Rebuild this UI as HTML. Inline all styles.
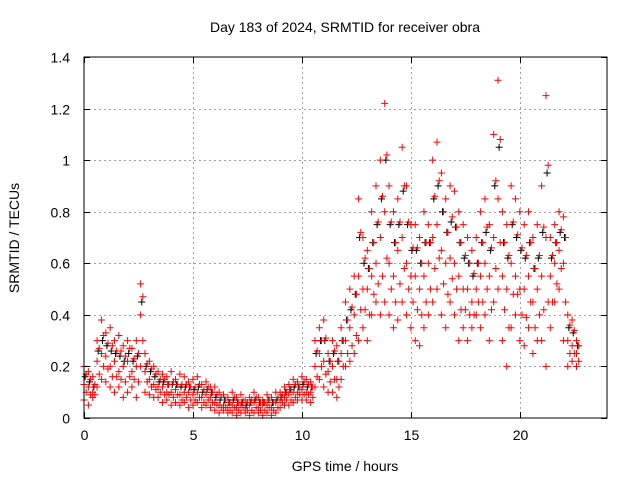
<!DOCTYPE html>
<html><head><meta charset="utf-8"><style>
body{margin:0;background:#fff}
svg{display:block;font-family:"Liberation Sans",sans-serif}
</style></head><body>
<svg id="chart" width="640" height="480" viewBox="0 0 640 480">
<rect width="640" height="480" fill="#fff"/>
<text x="345" y="32" text-anchor="middle" font-size="14">Day 183 of 2024, SRMTID for receiver obra</text>
<text x="345" y="471" text-anchor="middle" font-size="14">GPS time / hours</text>
<text transform="translate(19,238) rotate(-90)" text-anchor="middle" font-size="14">SRMTID / TECUs</text>
<g id="grid"></g>
<g id="blackpts"></g>
<g id="redpts"></g>
<rect x="84" y="57" width="523" height="361" fill="none" stroke="#000" stroke-width="1"/>
<g id="ticks"></g>
</svg>
<script>
const xTicks=[0,5,10,15,20];
const yTicks=[0,0.2,0.4,0.6,0.8,1,1.2,1.4];
const yTickLabels=["0","0.2","0.4","0.6","0.8","1","1.2","1.4"];
const tStart=0, tStep=0.2;
const redHi=[.2,.18,.16,.3,.38,.33,.35,.3,.32,.28,.3,.27,.3,.52,.25,.22,.2,.18,.17,.16,.18,.15,.17,.16,.14,.15,.16,.13,.14,.12,.12,.1,.09,.08,.1,.08,.09,.07,.08,.1,.08,.07,.09,.08,.1,.1,.12,.13,.15,.14,.16,.15,.14,.3,.35,.38,.25,.3,.28,.35,.45,.5,.55,.85,.7,.65,.8,.9,1.0,1.22,.9,.8,.85,1.05,.9,.75,.75,.7,.8,.75,1.0,1.07,.95,.85,.9,.88,.8,.75,.7,.65,.7,.8,.85,.75,1.1,1.31,.8,.75,.9,.85,.8,.75,.8,.7,.75,.9,1.25,.7,.75,.8,.78,.4,.38,.3];
const redMid=[.13,.12,.1,.22,.25,.24,.2,.22,.18,.2,.22,.18,.2,.4,.18,.15,.13,.12,.12,.1,.1,.11,.09,.1,.1,.09,.1,.08,.09,.08,.06,.05,.05,.04,.05,.04,.05,.04,.05,.06,.04,.05,.05,.04,.06,.07,.08,.09,.1,.1,.11,.1,.1,.2,.25,.22,.18,.2,.15,.25,.3,.35,.4,.55,.5,.5,.55,.6,.7,.8,.6,.55,.65,.7,.6,.55,.55,.5,.55,.6,.7,.75,.65,.6,.62,.6,.55,.5,.5,.45,.5,.55,.6,.55,.7,.85,.55,.5,.6,.55,.5,.5,.55,.45,.5,.55,.7,.55,.6,.65,.6,.3,.28,.25];
const redLo=[.07,.05,.08,.12,.15,.14,.12,.1,.12,.08,.1,.12,.08,.2,.1,.09,.08,.08,.06,.07,.05,.06,.05,.06,.04,.05,.06,.04,.05,.04,.03,.02,.03,.02,.02,.01,.02,.02,.01,.02,.02,.01,.02,.01,.02,.04,.05,.05,.06,.07,.07,.07,.06,.12,.15,.12,.1,.1,.08,.15,.2,.22,.25,.3,.35,.3,.4,.45,.4,.45,.4,.35,.38,.45,.4,.35,.3,.28,.35,.4,.45,.5,.4,.35,.45,.4,.3,.35,.3,.35,.4,.35,.4,.3,.45,.5,.3,.2,.35,.4,.3,.28,.35,.25,.3,.3,.2,.35,.45,.5,.3,.2,.22,.2];
const redA=[.17,.15,.13,.27,.32,.29,.28,.26,.26,.24,.27,.23,.25,.47,.21,.19,.17,.15,.15,.13,.14,.13,.13,.13,.12,.12,.13,.11,.12,.1,.09,.08,.07,.06,.08,.06,.07,.06,.07,.08,.06,.06,.07,.06,.08,.09,.1,.11,.13,.12,.14,.13,.12,.26,.3,.31,.22,.26,.22,.3,.38,.43,.48,.72,.62,.58,.68,.76,.86,1.02,.76,.68,.76,.9,.76,.66,.66,.6,.68,.68,.86,.92,.8,.72,.78,.74,.68,.63,.6,.56,.6,.68,.74,.66,.92,1.08,.68,.63,.76,.71,.66,.63,.68,.58,.63,.74,.98,.63,.68,.73,.7,.36,.34,.28];
const redB=[.1,.09,.09,.17,.2,.19,.16,.16,.15,.14,.16,.15,.14,.3,.14,.12,.11,.1,.09,.09,.08,.09,.07,.08,.07,.07,.08,.06,.07,.06,.05,.04,.04,.03,.04,.03,.04,.03,.03,.04,.03,.03,.04,.03,.04,.06,.07,.07,.08,.09,.09,.09,.08,.16,.2,.17,.14,.15,.12,.2,.25,.28,.32,.42,.42,.4,.48,.52,.55,.62,.5,.45,.52,.58,.5,.45,.42,.4,.45,.5,.58,.62,.52,.48,.54,.5,.42,.42,.4,.4,.45,.45,.5,.42,.58,.68,.42,.35,.48,.48,.4,.39,.45,.35,.4,.42,.45,.45,.52,.58,.45,.25,.25,.22];
const blk=[.16,.14,.12,.26,.3,.28,.26,.25,.24,.22,.25,.22,.24,.45,.2,.18,.16,.14,.14,.13,.13,.13,.12,.12,.12,.11,.12,.1,.11,.1,.08,.07,.07,.06,.07,.06,.06,.05,.06,.07,.06,.06,.07,.06,.07,.08,.1,.11,.12,.12,.13,.12,.12,.25,.3,.3,.22,.25,.22,.3,.38,.42,.48,.7,.6,.58,.68,.75,.85,1.0,.75,.68,.75,.88,.75,.65,.65,.6,.68,.68,.85,.9,.8,.72,.76,.74,.68,.62,.6,.55,.6,.68,.72,.65,.9,1.05,.68,.62,.75,.7,.65,.62,.68,.58,.62,.72,.95,.62,.68,.72,.7,.35,.33,.28];
const X0=84,X1=607,Y0=418,Y1=57;
function xs(t){return X0+(t-0)/24*(X1-X0);}
function ys(v){return Y0-(v-0)/1.4*(Y0-Y1);}
const NS="http://www.w3.org/2000/svg";
const grid=document.getElementById('grid'),ticks=document.getElementById('ticks');
function ln(g,x1,y1,x2,y2,st,da){const l=document.createElementNS(NS,'line');l.setAttribute('x1',x1);l.setAttribute('y1',y1);l.setAttribute('x2',x2);l.setAttribute('y2',y2);l.setAttribute('stroke',st);if(da)l.setAttribute('stroke-dasharray',da);g.appendChild(l);return l;}
xTicks.forEach(t=>{const x=Math.round(xs(t))+0.5;
 if(t>0){const g=ln(grid,x,Y1,x,Y0,'#a0a0a0','2,3');
 
 }
 const a=ln(ticks,x,Y0,x,Y0-6,'#000');
 
 
 ln(ticks,x,Y1,x,Y1+6,'#000');
 const tx=document.createElementNS(NS,'text');tx.setAttribute('x',x);tx.setAttribute('y',Y0+22);tx.setAttribute('text-anchor','middle');tx.setAttribute('font-size','14');tx.textContent=t;
 
 
 ticks.appendChild(tx);});
yTicks.forEach((v,i)=>{const y=Math.round(ys(v))+0.5;
 if(v>0&&v<1.4){const g=ln(grid,X0,y,X1,y,'#a0a0a0','2,3');
 
 }
 const a=ln(ticks,X0,y,X0+6,y,'#000');
 
 
 ln(ticks,X1,y,X1-6,y,'#000');
 const tx=document.createElementNS(NS,'text');tx.setAttribute('x',X0-14);tx.setAttribute('y',y+5);tx.setAttribute('text-anchor','end');tx.setAttribute('font-size','14');tx.textContent=yTickLabels[i];
 
 
 ticks.appendChild(tx);});
function plus(g,t,v,col,name){const x=xs(t),y=ys(v);const p=document.createElementNS(NS,'path');
 p.setAttribute('d',`M${x-3.5},${y}h7M${x},${y-3.5}v7`);p.setAttribute('stroke',col);p.setAttribute('stroke-width','1');
 
 
 g.appendChild(p);}
const bg=document.getElementById('blackpts'),rg=document.getElementById('redpts');
blk.forEach((v,i)=>plus(bg,tStart+i*tStep+0.05,v,'#000','black-point'));
[redHi,redMid,redLo].forEach(arr=>arr.forEach((v,i)=>plus(rg,tStart+i*tStep,v,'#f00','red-point')));
[redA,redB].forEach(arr=>arr.forEach((v,i)=>plus(rg,tStart+i*tStep+0.1,v,'#f00','red-point')));
</script>
</body></html>
